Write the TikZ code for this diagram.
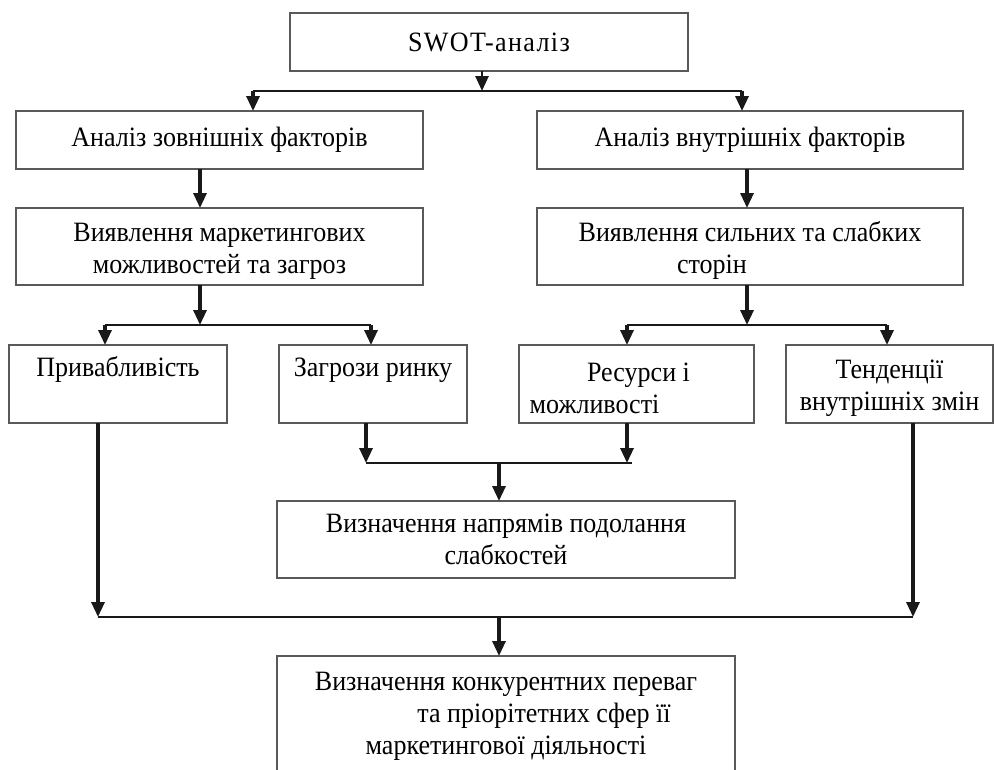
\documentclass[tikz,border=0pt]{standalone}
\usepackage{fontspec}
\setmainfont[FakeStretch=0.93]{Liberation Serif}
\usetikzlibrary{arrows.meta}
\newcommand{\toprule}{\rule{0pt}{27pt}}
\begin{document}
\begin{tikzpicture}[x=1pt,y=-1pt,
  box/.style={draw=black!65, line width=1.4pt, inner sep=0pt, outer sep=0pt,
    align=center, font=\fontsize{28}{32}\selectfont},
  vln/.style={line width=3.2pt, black!90},
  hln/.style={line width=1.6pt, black!90},
  arr/.style={-{Triangle[width=13pt,length=15pt]}}
]
\useasboundingbox (0,0) rectangle (995,769);
\clip (0,0) rectangle (995,769);

% boxes
\node[box, minimum width=398, minimum height=58] (swot) at (489,42) {\addfontfeatures{LetterSpace=5}SWOT-аналіз};
\node[box, minimum width=407, minimum height=58] (ext) at (219.5,140) {Аналіз зовнішніх факторів};
\node[box, minimum width=426, minimum height=58] (int) at (750,140) {Аналіз внутрішніх факторів};
\node[box, minimum width=407, minimum height=77] (extdet) at (219.5,246.5) {\toprule Виявлення маркетингових\\можливостей та загроз};
\node[box, minimum width=426, minimum height=77] (intdet) at (750,246.5) {\toprule Виявлення сильних та слабких\\сторін\hspace*{76pt}};
\node[box, minimum width=218, minimum height=78] (attr) at (118,384) {\toprule Привабливість\\\strut};
\node[box, minimum width=188, minimum height=78] (thr) at (373,384) {\toprule Загрози ринку\\\strut};
\node[box, minimum width=235, minimum height=78] (res) at (636.5,384) {\toprule\hspace*{4pt}Ресурси і\\можливості\hspace*{84pt}};
\node[box, minimum width=207, minimum height=78] (trend) at (889.5,384) {\toprule Тенденції\\внутрішніх змін};
\node[box, minimum width=458, minimum height=77] (weak) at (506,539.5) {Визначення напрямів подолання\\слабкостей};
\node[box, minimum width=458, minimum height=120] (final) at (506,716) {Визначення конкурентних переваг\\\hspace*{76pt}та пріорітетних сфер її\\маркетингової діяльності};

% junction coordinates
\coordinate (j0) at (482,91);
\coordinate (j0l) at (253,91);
\coordinate (j0r) at (742,91);
\coordinate (j1) at (200,325);
\coordinate (j1l) at (105,325);
\coordinate (j1r) at (371,325);
\coordinate (j2) at (747,325);
\coordinate (j2l) at (627,325);
\coordinate (j2r) at (887,325);
\coordinate (j3) at (499,463);
\coordinate (j3l) at (366,463);
\coordinate (j3r) at (627,463);
\coordinate (j3e) at (632,463);
\coordinate (j4) at (499,617);
\coordinate (j4l) at (98,617);
\coordinate (j4r) at (913,617);

% SWOT split
\draw[vln, line width=2.6pt, arr] (swot.south -| j0) -- (j0);
\draw[hln] (j0l) -- (j0r);
\draw[vln, arr] (j0l) -- (j0l |- ext.north);
\draw[vln, arr] (j0r) -- (j0r |- int.north);

% to detail boxes
\draw[vln, arr] (ext.south -| j1) -- (j1 |- extdet.north);
\draw[vln, arr] (int.south -| j2) -- (j2 |- intdet.north);

% left branch
\draw[vln, arr] (extdet.south -| j1) -- (j1);
\draw[hln] (j1l) -- (j1r);
\draw[vln, arr] (j1l) -- (j1l |- attr.north);
\draw[vln, arr] (j1r) -- (j1r |- thr.north);

% right branch
\draw[vln, arr] (intdet.south -| j2) -- (j2);
\draw[hln] (j2l) -- (j2r);
\draw[vln, arr] (j2l) -- (j2l |- res.north);
\draw[vln, arr] (j2r) -- (j2r |- trend.north);

% middle merge
\draw[vln, arr] (thr.south -| j3l) -- (j3l);
\draw[vln, arr] (res.south -| j3r) -- (j3r);
\draw[hln] (j3l) -- (j3e);
\draw[vln, arr] (j3) -- (j3 |- weak.north);

% outer merge
\draw[vln, arr] (attr.south -| j4l) -- (j4l);
\draw[vln, arr] (trend.south -| j4r) -- (j4r);
\draw[hln] (j4l) -- (j4r);
\draw[vln, arr] (j4) -- (j4 |- final.north);
\end{tikzpicture}
\end{document}
